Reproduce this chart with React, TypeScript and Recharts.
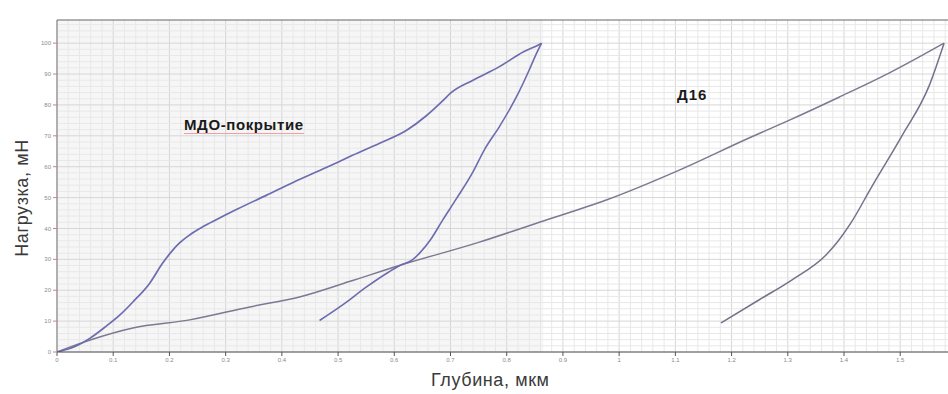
import React from 'react';
import { LineChart, Line, XAxis, YAxis, ReferenceLine, ReferenceArea } from 'recharts';

const mdoLoading = [
  { x: 0, y: 0 }, { x: 0.03, y: 1.6 }, { x: 0.059, y: 4.5 }, { x: 0.085, y: 8 },
  { x: 0.112, y: 12 }, { x: 0.135, y: 16.2 }, { x: 0.165, y: 22.3 }, { x: 0.188, y: 28.8 },
  { x: 0.206, y: 33 }, { x: 0.218, y: 35.3 }, { x: 0.236, y: 37.9 }, { x: 0.26, y: 40.6 },
  { x: 0.284, y: 42.9 }, { x: 0.32, y: 46.2 }, { x: 0.373, y: 50.8 }, { x: 0.42, y: 54.9 },
  { x: 0.48, y: 59.8 }, { x: 0.52, y: 63.2 }, { x: 0.574, y: 67.6 }, { x: 0.622, y: 71.8 },
  { x: 0.657, y: 76.5 }, { x: 0.686, y: 81.3 }, { x: 0.7, y: 83.8 }, { x: 0.74, y: 88 },
  { x: 0.787, y: 92.4 }, { x: 0.83, y: 97.2 }, { x: 0.858, y: 99.6 }, { x: 0.862, y: 100 },
];

// unloading branch, listed from the end point (lowest depth) up to the peak
const mdoUnloading = [
  { x: 0.467, y: 10.2 }, { x: 0.51, y: 15.5 }, { x: 0.55, y: 21 }, { x: 0.591, y: 26 },
  { x: 0.61, y: 28 }, { x: 0.632, y: 29.8 }, { x: 0.645, y: 32 }, { x: 0.665, y: 36.5 },
  { x: 0.686, y: 42.7 }, { x: 0.71, y: 49.5 }, { x: 0.739, y: 58 }, { x: 0.76, y: 65.4 },
  { x: 0.787, y: 73 }, { x: 0.805, y: 78.5 }, { x: 0.817, y: 82.5 }, { x: 0.84, y: 91.3 },
  { x: 0.85, y: 95.5 }, { x: 0.862, y: 100 },
];

const d16Loading = [
  { x: 0, y: 0 }, { x: 0.059, y: 3.9 }, { x: 0.135, y: 7.8 }, { x: 0.236, y: 10.4 },
  { x: 0.343, y: 14.6 }, { x: 0.433, y: 17.9 }, { x: 0.52, y: 22.8 }, { x: 0.609, y: 28 },
  { x: 0.75, y: 35.5 }, { x: 0.858, y: 42 }, { x: 0.977, y: 49.2 }, { x: 1.107, y: 58.9 },
  { x: 1.231, y: 69.3 }, { x: 1.302, y: 75 }, { x: 1.391, y: 82.5 }, { x: 1.48, y: 90.3 },
  { x: 1.578, y: 100 },
];

const d16Unloading = [
  { x: 1.181, y: 9.4 }, { x: 1.25, y: 17 }, { x: 1.307, y: 23.3 }, { x: 1.368, y: 31.4 },
  { x: 1.39, y: 36 }, { x: 1.412, y: 41.7 }, { x: 1.449, y: 53.4 }, { x: 1.503, y: 70 },
  { x: 1.551, y: 86 }, { x: 1.578, y: 100 },
];

const xTicks = [0, 0.1, 0.2, 0.3, 0.4, 0.5, 0.6, 0.7, 0.8, 0.9, 1, 1.1, 1.2, 1.3, 1.4, 1.5];
const yTicks = [0, 10, 20, 30, 40, 50, 60, 70, 80, 90, 100];
const xMinor = Array.from({ length: 80 }, (_, i) => +(i * 0.02).toFixed(2));
const yMinor = Array.from({ length: 54 }, (_, i) => i * 2);

const X_MAX = 1.585;
const Y_MAX = 107.5;

export default function App() {
  return (
    <div style={{ position: 'absolute', left: 0, top: 0, width: 948, height: 394, background: '#fff', fontFamily: 'Arial, "Liberation Sans", sans-serif' }}>
      <LineChart width={948} height={394} margin={{ top: 20, right: 0, left: 0, bottom: 0 }}>
        <XAxis
          xAxisId="b"
          type="number"
          dataKey="x"
          domain={[0, X_MAX]}
          ticks={xTicks}
          allowDataOverflow
          height={42}
          tickSize={4}
          tickFormatter={(v: number) => String(+v.toFixed(1))}
          tick={{ fontSize: 6, fill: '#8a8a8a' }}
          stroke="#555"
        />
        <YAxis
          type="number"
          domain={[0, Y_MAX]}
          ticks={yTicks}
          allowDataOverflow
          width={57}
          tickSize={4}
          tick={{ fontSize: 6, fill: '#8a8a8a' }}
          tickLine={{ stroke: '#d08080' }}
          stroke="#777"
        />
        <ReferenceArea xAxisId="b" x1={0} x2={0.865} y1={0} y2={Y_MAX} fill="#f6f6f6" fillOpacity={1} stroke="none" />
        {xMinor.map((v) => (
          <ReferenceLine key={'xm' + v} xAxisId="b" x={v} stroke={Math.abs(v * 10 - Math.round(v * 10)) < 1e-6 ? '#d6d6d6' : '#e8e8e8'} strokeWidth={1} />
        ))}
        {yMinor.map((v) => (
          <ReferenceLine key={'ym' + v} xAxisId="b" y={v} stroke={v % 10 === 0 ? '#d6d6d6' : '#e8e8e8'} strokeWidth={1} />
        ))}
        <ReferenceLine xAxisId="b" y={Y_MAX} stroke="#666" strokeWidth={1.2} />
        <Line xAxisId="b" data={d16Loading} dataKey="y" type="monotone" stroke="#7a7a90" strokeWidth={1.5} dot={false} isAnimationActive={false} />
        <Line xAxisId="b" data={d16Unloading} dataKey="y" type="monotone" stroke="#72728c" strokeWidth={1.5} dot={false} isAnimationActive={false} />
        <Line xAxisId="b" data={mdoLoading} dataKey="y" type="monotone" stroke="#6c6cb0" strokeWidth={1.7} dot={false} isAnimationActive={false} />
        <Line xAxisId="b" data={mdoUnloading} dataKey="y" type="monotone" stroke="#6c6cb0" strokeWidth={1.6} dot={false} isAnimationActive={false} />
      </LineChart>
      <div style={{ position: 'absolute', left: 184, top: 116, fontSize: 15, fontWeight: 'bold', color: '#1a1a1a', letterSpacing: 0.6, lineHeight: '17px', whiteSpace: 'nowrap', borderBottom: '1.5px solid #f0a0a0' }}>
        МДО-покрытие
      </div>
      <div style={{ position: 'absolute', left: 677, top: 86, fontSize: 15, fontWeight: 'bold', color: '#1a1a1a', letterSpacing: 1, lineHeight: '17px', whiteSpace: 'nowrap' }}>
        Д16
      </div>
      <div style={{ position: 'absolute', left: 431, top: 370, fontSize: 18, color: '#3a3a3a', letterSpacing: 0.6, lineHeight: '20px', whiteSpace: 'nowrap' }}>
        Глубина, мкм
      </div>
      <div style={{ position: 'absolute', left: 22, top: 198, width: 0, height: 0 }}>
        <div style={{ position: 'absolute', left: 0, top: 0, transform: 'translate(-50%, -50%) rotate(-90deg)', fontSize: 18, color: '#3a3a3a', letterSpacing: 0.6, lineHeight: '20px', whiteSpace: 'nowrap' }}>
          Нагрузка, мН
        </div>
      </div>
    </div>
  );
}
